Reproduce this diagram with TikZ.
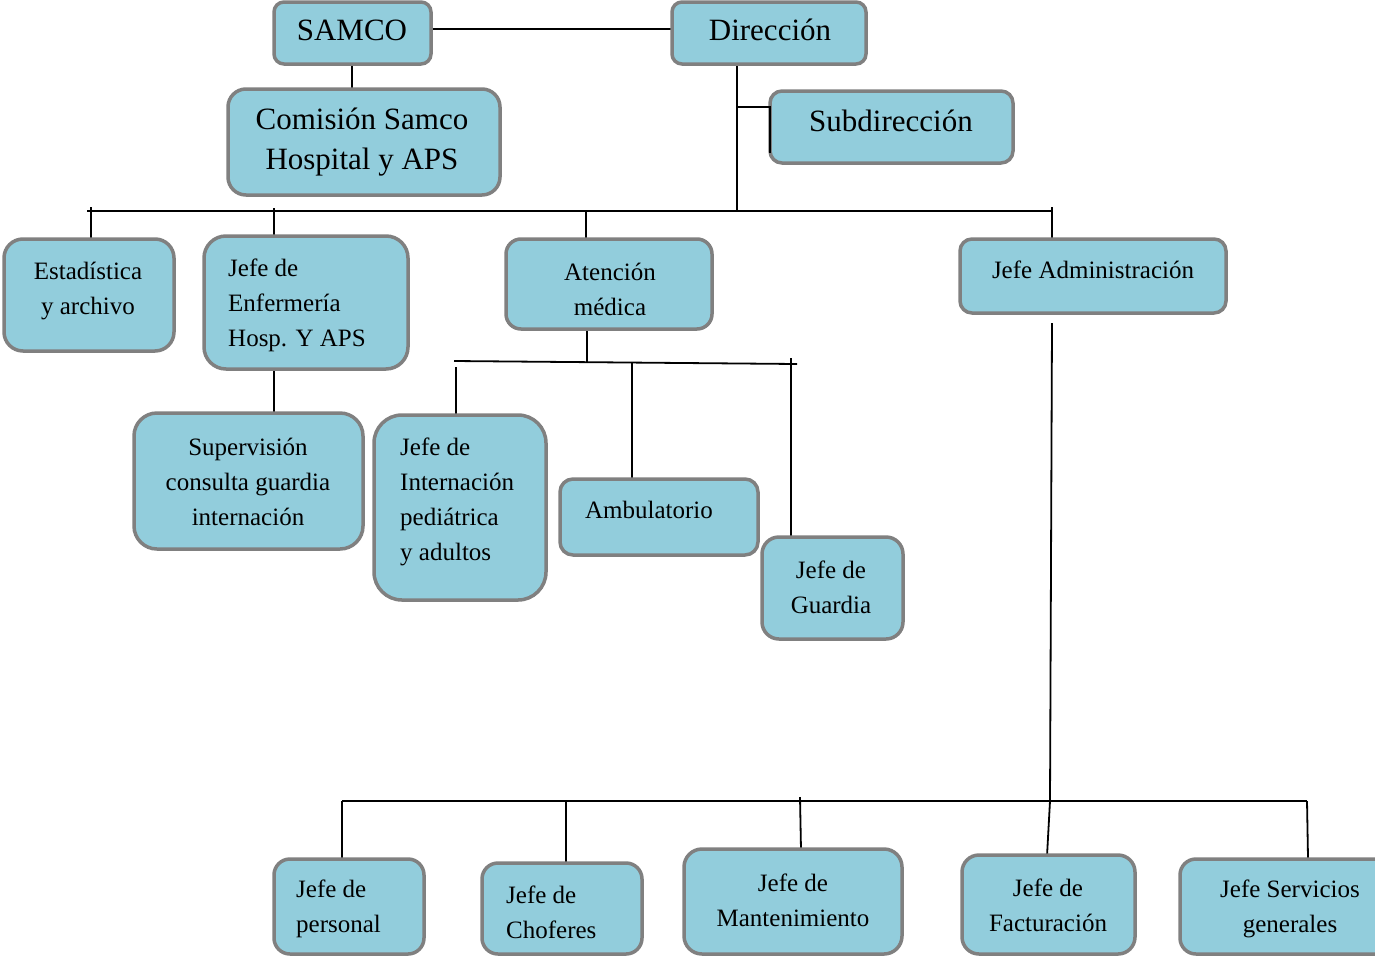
\documentclass[tikz,border=0pt]{standalone}
\usepackage{fontspec}
\setmainfont{Liberation Serif}
\begin{document}
\begin{tikzpicture}[x=1pt,y=-1pt,
  box/.style={draw=boxgray, fill=boxblue, line width=3.5pt, rounded corners=#1, inner sep=0pt},
  box/.default=12pt,
  big/.style={font=\fontsize{31}{40}\selectfont, align=center, inner sep=0pt},
  sml/.style={font=\fontsize{25}{35}\selectfont, align=center, inner sep=0pt},
  smll/.style={font=\fontsize{25}{35}\selectfont, align=left, inner sep=0pt},
  conn/.style={draw=black, line width=1.8pt}]
\definecolor{boxblue}{HTML}{92CDDC}
\definecolor{boxgray}{HTML}{808080}
\useasboundingbox (0,0) rectangle (1375,956);
\clip (0,0) rectangle (1375,956);
\fill[white] (0,0) rectangle (1375,956);

% ---------- connectors (drawn first, below boxes) ----------
\coordinate (busL) at (87,211);
\coordinate (busR) at (1053,211);
\coordinate (tickL) at (91,207);
\coordinate (estadT) at (91,211);
\coordinate (enfT) at (274,211);
\coordinate (atenT) at (586,211);
\coordinate (dirB) at (737,211);
\coordinate (subJ) at (737,107);
\coordinate (subJ2) at (770,107);
\coordinate (subJ3) at (770,153);
\coordinate (adminT) at (1052,207);

\draw[conn] (busL) -- (busR);
\draw[conn] (tickL) -- (estadT) -- (91,240);
\draw[conn] (274,208) -- (274,238);
\draw[conn] (atenT) -- (586,240);
\draw[conn] (adminT) -- (1052,240);
\draw[conn] (737,63) -- (dirB);
\draw[conn] (431,29) -- (672,29);
\draw[conn] (352,63) -- (352,90);

% Atención médica branch
\coordinate (abusL) at (454,361);
\coordinate (abusR) at (797,364);
\draw[conn] (587,329) -- (587,362);
\draw[conn] (abusL) -- (abusR);
\draw[conn] (456,367) -- (456,416);
\draw[conn] (632,363) -- (632,480);
\draw[conn] (791,358) -- (791,540);
% Enfermería to Supervisión
\draw[conn] (274,369) -- (274,412);

% Administración branch
\coordinate (admDown) at (1052,323);
\coordinate (admBus) at (1050,801);
\draw[conn] (admDown) -- (admBus);
\draw[conn] (342,801) -- (1307,801);
\draw[conn] (342,801) -- (342,858);
\draw[conn] (566,801) -- (566,863);
\draw[conn] (800,797) -- (801,850);
\draw[conn] (1050,801) -- (1047,856);
\draw[conn] (1307,801) -- (1308,858);

% ---------- boxes ----------
\node[box=10pt, minimum width=157pt, minimum height=62pt] (samco) at (352.5,33) {};
\node[big] (samcoT) at (352,30) {SAMCO};

\node[box=10pt, minimum width=194pt, minimum height=62pt] (dir) at (769,33) {};
\node[big] (dirT) at (770,30) {Dirección};

\node[box=18pt, minimum width=272pt, minimum height=106pt] (com) at (364,142) {};
\node[big] (comT) at (362,142) {Comisión Samco\\Hospital y APS};

\node[box=12pt, minimum width=243pt, minimum height=72pt] (sub) at (891.5,127) {};
\node[big] (subT) at (891,121) {Subdirección};

\node[box=19pt, minimum width=170pt, minimum height=112pt] (est) at (89,295) {};
\node[sml] (estT) at (88,291) {Estadística\\y archivo};

\node[box=22pt, minimum width=204pt, minimum height=133pt] (enf) at (306,302.5) {};
\node[smll, anchor=west] (enfT) at (228,305) {Jefe de\\Enfermería\\Hosp. Y APS};

\node[box=15pt, minimum width=206pt, minimum height=90pt] (aten) at (609,284) {};
\node[sml] (atenT) at (610,289) {Atención\\médica};

\node[box=12pt, minimum width=266pt, minimum height=74pt] (admin) at (1093,276) {};
\node[sml] (adminT) at (1093,270) {Jefe Administración};

\node[box=23pt, minimum width=229pt, minimum height=136pt] (sup) at (248.5,481) {};
\node[sml] (supT) at (248,482) {Supervisión\\consulta guardia\\internación};

\node[box=28pt, minimum width=172pt, minimum height=185pt] (int) at (460,507.5) {};
\node[smll, anchor=west] (intT) at (400,502) {Jefe de\\Internación\\pediátrica\\y adultos};

\node[box=13pt, minimum width=198pt, minimum height=76pt] (amb) at (659,517) {};
\node[sml] (ambT) at (649,510) {Ambulatorio};

\node[box=17pt, minimum width=141pt, minimum height=102pt] (gua) at (832.5,588) {};
\node[sml] (guaT) at (831,587) {Jefe de\\Guardia};

\node[box=16pt, minimum width=150pt, minimum height=95pt] (per) at (349,906.5) {};
\node[smll, anchor=west] (perT) at (296,909) {Jefe de\\personal};

\node[box=16pt, minimum width=160pt, minimum height=91pt] (cho) at (562,908.5) {};
\node[smll, anchor=west] (choT) at (506,912) {Jefe de\\Choferes};

\node[box=18pt, minimum width=218pt, minimum height=105pt] (man) at (793,901.5) {};
\node[sml] (manT) at (793,900) {Jefe de\\Mantenimiento};

\node[box=17pt, minimum width=173pt, minimum height=99pt] (fac) at (1048.5,904.5) {};
\node[sml] (facT) at (1048,905) {Jefe de\\Facturación};

\node[box=16pt, minimum width=240pt, minimum height=95pt] (ser) at (1300,906.5) {};
\node[sml] (serT) at (1290,909) {Jefe Servicios\\generales};

% Subdirección joint (drawn over its box edge)
\draw[conn] (subJ) -- (subJ2) -- (subJ3);
\end{tikzpicture}
\end{document}
